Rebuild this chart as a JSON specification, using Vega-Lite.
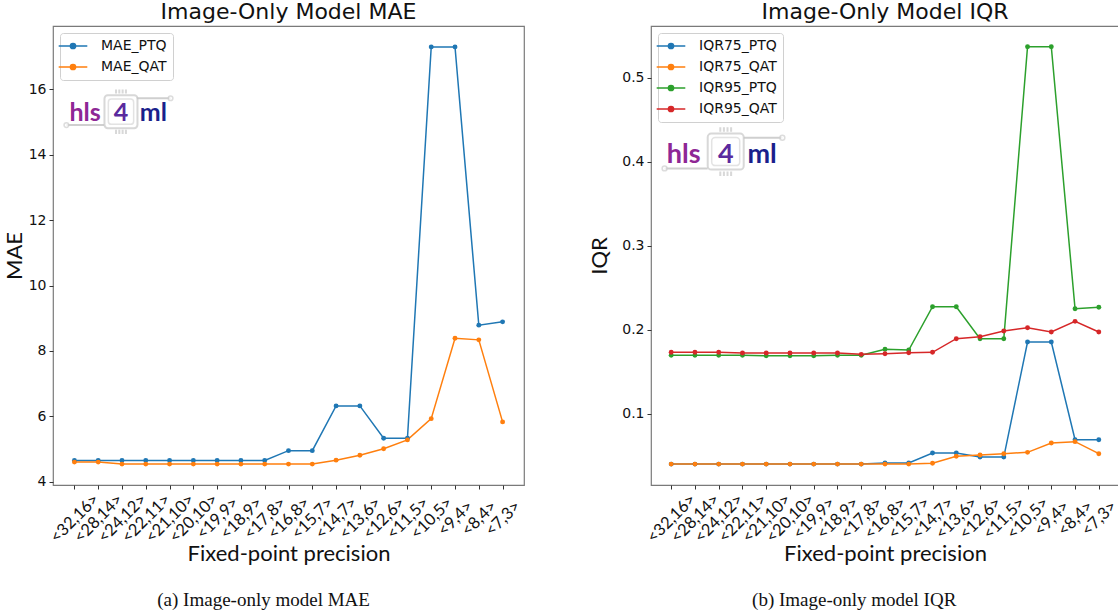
{
  "$schema": "https://vega.github.io/schema/vega-lite/v6.json",
  "background": "white",
  "padding": {"left": 2, "top": 0, "right": 0, "bottom": 0},
  "spacing": 63,
  "config": {
    "view": {"stroke": "#7a7a7a", "strokeWidth": 1.2},
    "axis": {"domain": false, "grid": false, "tickColor": "#333333", "tickSize": 4, "labelColor": "#111111", "titleColor": "#111111", "titleFontWeight": "normal"},
    "title": {"font": "DejaVu Sans", "fontSize": 22, "fontWeight": "normal", "color": "#111111"},
    "legend": {"orient": "top-left", "offset": 7, "padding": 6, "strokeColor": "#d0d0d0", "fillColor": "white", "cornerRadius": 3, "labelFont": "DejaVu Sans", "labelFontSize": 14, "labelColor": "#111111", "symbolType": "M-3,0H3M-0.55,0A0.55,0.55,0,1,0,0.55,0A0.55,0.55,0,1,0,-0.55,0Z", "symbolSize": 91, "symbolStrokeWidth": 1.5, "labelOffset": 21, "rowPadding": 7}
  },
  "resolve": {"scale": {"x": "independent", "y": "independent", "color": "independent"}, "legend": {"color": "independent"}},
  "datasets": {
    "mae": [
      {"p": "<32,16>", "s": "MAE_PTQ", "v": 4.65}, {"p": "<28,14>", "s": "MAE_PTQ", "v": 4.65}, {"p": "<24,12>", "s": "MAE_PTQ", "v": 4.65}, {"p": "<22,11>", "s": "MAE_PTQ", "v": 4.65}, {"p": "<21,10>", "s": "MAE_PTQ", "v": 4.65}, {"p": "<20,10>", "s": "MAE_PTQ", "v": 4.65}, {"p": "<19,9>", "s": "MAE_PTQ", "v": 4.65}, {"p": "<18,9>", "s": "MAE_PTQ", "v": 4.65}, {"p": "<17,8>", "s": "MAE_PTQ", "v": 4.65}, {"p": "<16,8>", "s": "MAE_PTQ", "v": 4.95}, {"p": "<15,7>", "s": "MAE_PTQ", "v": 4.95}, {"p": "<14,7>", "s": "MAE_PTQ", "v": 6.32}, {"p": "<13,6>", "s": "MAE_PTQ", "v": 6.32}, {"p": "<12,6>", "s": "MAE_PTQ", "v": 5.33}, {"p": "<11,5>", "s": "MAE_PTQ", "v": 5.33}, {"p": "<10,5>", "s": "MAE_PTQ", "v": 17.3}, {"p": "<9,4>", "s": "MAE_PTQ", "v": 17.3}, {"p": "<8,4>", "s": "MAE_PTQ", "v": 8.79}, {"p": "<7,3>", "s": "MAE_PTQ", "v": 8.89},
      {"p": "<32,16>", "s": "MAE_QAT", "v": 4.6}, {"p": "<28,14>", "s": "MAE_QAT", "v": 4.6}, {"p": "<24,12>", "s": "MAE_QAT", "v": 4.54}, {"p": "<22,11>", "s": "MAE_QAT", "v": 4.54}, {"p": "<21,10>", "s": "MAE_QAT", "v": 4.54}, {"p": "<20,10>", "s": "MAE_QAT", "v": 4.54}, {"p": "<19,9>", "s": "MAE_QAT", "v": 4.54}, {"p": "<18,9>", "s": "MAE_QAT", "v": 4.54}, {"p": "<17,8>", "s": "MAE_QAT", "v": 4.54}, {"p": "<16,8>", "s": "MAE_QAT", "v": 4.54}, {"p": "<15,7>", "s": "MAE_QAT", "v": 4.54}, {"p": "<14,7>", "s": "MAE_QAT", "v": 4.66}, {"p": "<13,6>", "s": "MAE_QAT", "v": 4.81}, {"p": "<12,6>", "s": "MAE_QAT", "v": 5.01}, {"p": "<11,5>", "s": "MAE_QAT", "v": 5.28}, {"p": "<10,5>", "s": "MAE_QAT", "v": 5.93}, {"p": "<9,4>", "s": "MAE_QAT", "v": 8.39}, {"p": "<8,4>", "s": "MAE_QAT", "v": 8.34}, {"p": "<7,3>", "s": "MAE_QAT", "v": 5.83}
    ],
    "iqr": [
      {"p": "<32,16>", "s": "IQR75_PTQ", "v": 0.04}, {"p": "<28,14>", "s": "IQR75_PTQ", "v": 0.04}, {"p": "<24,12>", "s": "IQR75_PTQ", "v": 0.04}, {"p": "<22,11>", "s": "IQR75_PTQ", "v": 0.04}, {"p": "<21,10>", "s": "IQR75_PTQ", "v": 0.04}, {"p": "<20,10>", "s": "IQR75_PTQ", "v": 0.04}, {"p": "<19,9>", "s": "IQR75_PTQ", "v": 0.04}, {"p": "<18,9>", "s": "IQR75_PTQ", "v": 0.04}, {"p": "<17,8>", "s": "IQR75_PTQ", "v": 0.04}, {"p": "<16,8>", "s": "IQR75_PTQ", "v": 0.0413}, {"p": "<15,7>", "s": "IQR75_PTQ", "v": 0.0413}, {"p": "<14,7>", "s": "IQR75_PTQ", "v": 0.0532}, {"p": "<13,6>", "s": "IQR75_PTQ", "v": 0.0532}, {"p": "<12,6>", "s": "IQR75_PTQ", "v": 0.0484}, {"p": "<11,5>", "s": "IQR75_PTQ", "v": 0.0484}, {"p": "<10,5>", "s": "IQR75_PTQ", "v": 0.1854}, {"p": "<9,4>", "s": "IQR75_PTQ", "v": 0.1854}, {"p": "<8,4>", "s": "IQR75_PTQ", "v": 0.069}, {"p": "<7,3>", "s": "IQR75_PTQ", "v": 0.069},
      {"p": "<32,16>", "s": "IQR75_QAT", "v": 0.04}, {"p": "<28,14>", "s": "IQR75_QAT", "v": 0.04}, {"p": "<24,12>", "s": "IQR75_QAT", "v": 0.04}, {"p": "<22,11>", "s": "IQR75_QAT", "v": 0.04}, {"p": "<21,10>", "s": "IQR75_QAT", "v": 0.04}, {"p": "<20,10>", "s": "IQR75_QAT", "v": 0.04}, {"p": "<19,9>", "s": "IQR75_QAT", "v": 0.04}, {"p": "<18,9>", "s": "IQR75_QAT", "v": 0.04}, {"p": "<17,8>", "s": "IQR75_QAT", "v": 0.04}, {"p": "<16,8>", "s": "IQR75_QAT", "v": 0.04}, {"p": "<15,7>", "s": "IQR75_QAT", "v": 0.04}, {"p": "<14,7>", "s": "IQR75_QAT", "v": 0.041}, {"p": "<13,6>", "s": "IQR75_QAT", "v": 0.0493}, {"p": "<12,6>", "s": "IQR75_QAT", "v": 0.0508}, {"p": "<11,5>", "s": "IQR75_QAT", "v": 0.0524}, {"p": "<10,5>", "s": "IQR75_QAT", "v": 0.054}, {"p": "<9,4>", "s": "IQR75_QAT", "v": 0.0651}, {"p": "<8,4>", "s": "IQR75_QAT", "v": 0.0667}, {"p": "<7,3>", "s": "IQR75_QAT", "v": 0.0524},
      {"p": "<32,16>", "s": "IQR95_PTQ", "v": 0.1695}, {"p": "<28,14>", "s": "IQR95_PTQ", "v": 0.1695}, {"p": "<24,12>", "s": "IQR95_PTQ", "v": 0.1695}, {"p": "<22,11>", "s": "IQR95_PTQ", "v": 0.1695}, {"p": "<21,10>", "s": "IQR95_PTQ", "v": 0.169}, {"p": "<20,10>", "s": "IQR95_PTQ", "v": 0.169}, {"p": "<19,9>", "s": "IQR95_PTQ", "v": 0.169}, {"p": "<18,9>", "s": "IQR95_PTQ", "v": 0.1695}, {"p": "<17,8>", "s": "IQR95_PTQ", "v": 0.1695}, {"p": "<16,8>", "s": "IQR95_PTQ", "v": 0.1767}, {"p": "<15,7>", "s": "IQR95_PTQ", "v": 0.1758}, {"p": "<14,7>", "s": "IQR95_PTQ", "v": 0.2274}, {"p": "<13,6>", "s": "IQR95_PTQ", "v": 0.2274}, {"p": "<12,6>", "s": "IQR95_PTQ", "v": 0.1893}, {"p": "<11,5>", "s": "IQR95_PTQ", "v": 0.1893}, {"p": "<10,5>", "s": "IQR95_PTQ", "v": 0.537}, {"p": "<9,4>", "s": "IQR95_PTQ", "v": 0.537}, {"p": "<8,4>", "s": "IQR95_PTQ", "v": 0.225}, {"p": "<7,3>", "s": "IQR95_PTQ", "v": 0.2267},
      {"p": "<32,16>", "s": "IQR95_QAT", "v": 0.1731}, {"p": "<28,14>", "s": "IQR95_QAT", "v": 0.1731}, {"p": "<24,12>", "s": "IQR95_QAT", "v": 0.1731}, {"p": "<22,11>", "s": "IQR95_QAT", "v": 0.1723}, {"p": "<21,10>", "s": "IQR95_QAT", "v": 0.1723}, {"p": "<20,10>", "s": "IQR95_QAT", "v": 0.1723}, {"p": "<19,9>", "s": "IQR95_QAT", "v": 0.1723}, {"p": "<18,9>", "s": "IQR95_QAT", "v": 0.1723}, {"p": "<17,8>", "s": "IQR95_QAT", "v": 0.1707}, {"p": "<16,8>", "s": "IQR95_QAT", "v": 0.1714}, {"p": "<15,7>", "s": "IQR95_QAT", "v": 0.1726}, {"p": "<14,7>", "s": "IQR95_QAT", "v": 0.1731}, {"p": "<13,6>", "s": "IQR95_QAT", "v": 0.1893}, {"p": "<12,6>", "s": "IQR95_QAT", "v": 0.1917}, {"p": "<11,5>", "s": "IQR95_QAT", "v": 0.1985}, {"p": "<10,5>", "s": "IQR95_QAT", "v": 0.2024}, {"p": "<9,4>", "s": "IQR95_QAT", "v": 0.1973}, {"p": "<8,4>", "s": "IQR95_QAT", "v": 0.21}, {"p": "<7,3>", "s": "IQR95_QAT", "v": 0.1973}
    ]
  },
  "hconcat": [
    {
      "title": {"text": "(a) Image-only model MAE", "orient": "bottom", "font": "Liberation Serif", "fontSize": 19, "offset": 26, "anchor": "middle"},
      "vconcat": [
        {
          "width": 471,
          "height": 459,
          "title": {"text": "Image-Only Model MAE", "frame": "group", "anchor": "middle", "offset": 2},
          "layer": [
            {
              "data": {"name": "mae"},
              "mark": {"type": "line", "strokeWidth": 1.5, "point": {"filled": true, "size": 24}},
              "encoding": {
                "x": {"field": "p", "type": "ordinal", "sort": ["<32,16>", "<28,14>", "<24,12>", "<22,11>", "<21,10>", "<20,10>", "<19,9>", "<18,9>", "<17,8>", "<16,8>", "<15,7>", "<14,7>", "<13,6>", "<12,6>", "<11,5>", "<10,5>", "<9,4>", "<8,4>", "<7,3>"], "scale": {"type": "point", "padding": 0.9},
                  "axis": {"title": "Fixed-point precision", "titleFont": "Lato", "titleFontSize": 22, "titlePadding": -2, "labelFont": "Lato", "labelFontSize": 16.5, "labelAngle": -45, "labelAlign": "center", "labelBaseline": "middle", "labelPadding": 29, "labelOverlap": false}},
                "y": {"field": "v", "type": "quantitative", "scale": {"domain": [3.9, 17.94], "nice": false, "zero": false},
                  "axis": {"values": [4, 6, 8, 10, 12, 14, 16], "title": "MAE", "titleFont": "Lato", "titleFontSize": 22, "titlePadding": 2, "labelFont": "DejaVu Sans", "labelFontSize": 14, "labelPadding": 3}},
                "color": {"field": "s", "type": "nominal", "scale": {"domain": ["MAE_PTQ", "MAE_QAT"], "range": ["#1f77b4", "#ff7f0e"]},
                  "legend": {"title": null, "encode": {"symbols": {"update": {"fill": {"signal": "datum.value === 'MAE_PTQ' ? '#1f77b4' : '#ff7f0e'"}}}}}}
              }
            },
            {
              "data": {"values": [{}]},
              "mark": {"type": "rule", "stroke": "#cfcfcf", "strokeWidth": 2, "xOffset": -8, "x2Offset": 6},
              "encoding": {"x": {"datum": "<32,16>", "type": "ordinal"}, "x2": {"datum": "<28,14>"}, "y": {"datum": 14.91}}
            },
            {
              "data": {"values": [{}]},
              "mark": {"type": "rule", "stroke": "#cfcfcf", "strokeWidth": 2, "xOffset": -9, "x2Offset": 1},
              "encoding": {"x": {"datum": "<22,11>", "type": "ordinal"}, "x2": {"datum": "<21,10>"}, "y": {"datum": 15.73}}
            },
            {
              "data": {"values": [{}]},
              "mark": {"type": "point", "shape": "circle", "filled": true, "fill": "white", "stroke": "#cfcfcf", "strokeWidth": 1.5, "size": 22, "xOffset": -8},
              "encoding": {"x": {"datum": "<32,16>", "type": "ordinal"}, "y": {"datum": 14.91}}
            },
            {
              "data": {"values": [{}]},
              "mark": {"type": "point", "shape": "circle", "filled": true, "fill": "white", "stroke": "#cfcfcf", "strokeWidth": 1.5, "size": 22, "xOffset": 1},
              "encoding": {"x": {"datum": "<21,10>", "type": "ordinal"}, "y": {"datum": 15.73}}
            },
            {
              "data": {"values": [{}]},
              "mark": {"type": "point", "filled": true, "fill": "white", "stroke": "#c8c8c8", "strokeWidth": 2, "size": 1089, "xOffset": -1, "shape": "M-0.8,-1H0.8A0.2,0.2,0,0,1,1,-0.8V0.8A0.2,0.2,0,0,1,0.8,1H-0.8A0.2,0.2,0,0,1,-1,0.8V-0.8A0.2,0.2,0,0,1,-0.8,-1ZM-0.3,-1.1V-1.35M-0.1,-1.1V-1.35M0.1,-1.1V-1.35M0.3,-1.1V-1.35M-0.3,1.1V1.35M-0.1,1.1V1.35M0.1,1.1V1.35M0.3,1.1V1.35"},
              "encoding": {"x": {"datum": "<24,12>", "type": "ordinal"}, "y": {"datum": 15.32}}
            },
            {
              "data": {"values": [{}]},
              "mark": {"type": "point", "filled": false, "stroke": "#d8d8d8", "strokeWidth": 1.5, "size": 640, "xOffset": -1, "shape": "M-0.75,-1H0.75A0.25,0.25,0,0,1,1,-0.75V0.75A0.25,0.25,0,0,1,0.75,1H-0.75A0.25,0.25,0,0,1,-1,0.75V-0.75A0.25,0.25,0,0,1,-0.75,-1Z"},
              "encoding": {"x": {"datum": "<24,12>", "type": "ordinal"}, "y": {"datum": 15.32}}
            },
            {
              "data": {"values": [{}]},
              "mark": {"type": "text", "text": "hls", "align": "left", "baseline": "alphabetic", "font": "Lato", "fontWeight": "bold", "fontSize": 25, "color": "#8e2795", "dx": -5},
              "encoding": {"x": {"datum": "<32,16>", "type": "ordinal"}, "y": {"datum": 15.03}}
            },
            {
              "data": {"values": [{}]},
              "mark": {"type": "text", "text": "4", "align": "center", "baseline": "alphabetic", "font": "Lato", "fontWeight": "bold", "fontSize": 25, "color": "#5a2a9e", "dx": -1},
              "encoding": {"x": {"datum": "<24,12>", "type": "ordinal"}, "y": {"datum": 15.03}}
            },
            {
              "data": {"values": [{}]},
              "mark": {"type": "text", "text": "ml", "align": "left", "baseline": "alphabetic", "font": "Lato", "fontWeight": "bold", "fontSize": 25, "color": "#1a1f8c", "dx": -6},
              "encoding": {"x": {"datum": "<22,11>", "type": "ordinal"}, "y": {"datum": 15.03}}
            }
          ]
        }
      ]
    },
    {
      "title": {"text": "(b) Image-only model IQR", "orient": "bottom", "font": "Liberation Serif", "fontSize": 19, "offset": 26, "anchor": "middle"},
      "vconcat": [
        {
          "width": 468,
          "height": 459,
          "title": {"text": "Image-Only Model IQR", "frame": "group", "anchor": "middle", "offset": 2},
          "layer": [
            {
              "data": {"name": "iqr"},
              "mark": {"type": "line", "strokeWidth": 1.5, "point": {"filled": true, "size": 24}},
              "encoding": {
                "x": {"field": "p", "type": "ordinal", "sort": ["<32,16>", "<28,14>", "<24,12>", "<22,11>", "<21,10>", "<20,10>", "<19,9>", "<18,9>", "<17,8>", "<16,8>", "<15,7>", "<14,7>", "<13,6>", "<12,6>", "<11,5>", "<10,5>", "<9,4>", "<8,4>", "<7,3>"], "scale": {"type": "point", "padding": 0.85},
                  "axis": {"title": "Fixed-point precision", "titleFont": "Lato", "titleFontSize": 22, "titlePadding": -2, "labelFont": "Lato", "labelFontSize": 16.5, "labelAngle": -45, "labelAlign": "center", "labelBaseline": "middle", "labelPadding": 29, "labelOverlap": false}},
                "y": {"field": "v", "type": "quantitative", "scale": {"domain": [0.0151, 0.5617], "nice": false, "zero": false},
                  "axis": {"values": [0.1, 0.2, 0.3, 0.4, 0.5], "format": ".1f", "title": "IQR", "titleFont": "Lato", "titleFontSize": 22, "titlePadding": 10, "labelFont": "DejaVu Sans", "labelFontSize": 14, "labelPadding": 3}},
                "color": {"field": "s", "type": "nominal", "scale": {"domain": ["IQR75_PTQ", "IQR75_QAT", "IQR95_PTQ", "IQR95_QAT"], "range": ["#1f77b4", "#ff7f0e", "#2ca02c", "#d62728"]},
                  "legend": {"title": null, "encode": {"symbols": {"update": {"fill": {"signal": "datum.value === 'IQR75_PTQ' ? '#1f77b4' : datum.value === 'IQR75_QAT' ? '#ff7f0e' : datum.value === 'IQR95_PTQ' ? '#2ca02c' : '#d62728'"}}}}}}
              }
            },
            {
              "data": {"values": [{}]},
              "mark": {"type": "rule", "stroke": "#cfcfcf", "strokeWidth": 2, "xOffset": -6.6, "x2Offset": 12.7},
              "encoding": {"x": {"datum": "<32,16>", "type": "ordinal"}, "x2": {"datum": "<28,14>"}, "y": {"datum": 0.3921}}
            },
            {
              "data": {"values": [{}]},
              "mark": {"type": "rule", "stroke": "#cfcfcf", "strokeWidth": 2, "xOffset": 1.2, "x2Offset": -7.6},
              "encoding": {"x": {"datum": "<22,11>", "type": "ordinal"}, "x2": {"datum": "<20,10>"}, "y": {"datum": 0.4286}}
            },
            {
              "data": {"values": [{}]},
              "mark": {"type": "point", "shape": "circle", "filled": true, "fill": "white", "stroke": "#cfcfcf", "strokeWidth": 1.5, "size": 24, "xOffset": -6.6},
              "encoding": {"x": {"datum": "<32,16>", "type": "ordinal"}, "y": {"datum": 0.3921}}
            },
            {
              "data": {"values": [{}]},
              "mark": {"type": "point", "shape": "circle", "filled": true, "fill": "white", "stroke": "#cfcfcf", "strokeWidth": 1.5, "size": 24, "xOffset": -7.6},
              "encoding": {"x": {"datum": "<20,10>", "type": "ordinal"}, "y": {"datum": 0.4286}}
            },
            {
              "data": {"values": [{}]},
              "mark": {"type": "point", "filled": true, "fill": "white", "stroke": "#c8c8c8", "strokeWidth": 2, "size": 1296, "xOffset": 7, "shape": "M-0.8,-1H0.8A0.2,0.2,0,0,1,1,-0.8V0.8A0.2,0.2,0,0,1,0.8,1H-0.8A0.2,0.2,0,0,1,-1,0.8V-0.8A0.2,0.2,0,0,1,-0.8,-1ZM-0.3,-1.1V-1.35M-0.1,-1.1V-1.35M0.1,-1.1V-1.35M0.3,-1.1V-1.35M-0.3,1.1V1.35M-0.1,1.1V1.35M0.1,1.1V1.35M0.3,1.1V1.35"},
              "encoding": {"x": {"datum": "<24,12>", "type": "ordinal"}, "y": {"datum": 0.4121}}
            },
            {
              "data": {"values": [{}]},
              "mark": {"type": "point", "filled": false, "stroke": "#d8d8d8", "strokeWidth": 1.5, "size": 784, "xOffset": 7, "shape": "M-0.75,-1H0.75A0.25,0.25,0,0,1,1,-0.75V0.75A0.25,0.25,0,0,1,0.75,1H-0.75A0.25,0.25,0,0,1,-1,0.75V-0.75A0.25,0.25,0,0,1,-0.75,-1Z"},
              "encoding": {"x": {"datum": "<24,12>", "type": "ordinal"}, "y": {"datum": 0.4121}}
            },
            {
              "data": {"values": [{}]},
              "mark": {"type": "text", "text": "hls", "align": "left", "baseline": "alphabetic", "font": "Lato", "fontWeight": "bold", "fontSize": 27, "color": "#8e2795", "dx": -4.5},
              "encoding": {"x": {"datum": "<32,16>", "type": "ordinal"}, "y": {"datum": 0.3985}}
            },
            {
              "data": {"values": [{}]},
              "mark": {"type": "text", "text": "4", "align": "center", "baseline": "alphabetic", "font": "Lato", "fontWeight": "bold", "fontSize": 27, "color": "#5a2a9e", "dx": 7},
              "encoding": {"x": {"datum": "<24,12>", "type": "ordinal"}, "y": {"datum": 0.3985}}
            },
            {
              "data": {"values": [{}]},
              "mark": {"type": "text", "text": "ml", "align": "left", "baseline": "alphabetic", "font": "Lato", "fontWeight": "bold", "fontSize": 27, "color": "#1a1f8c", "dx": 5},
              "encoding": {"x": {"datum": "<22,11>", "type": "ordinal"}, "y": {"datum": 0.3985}}
            }
          ]
        }
      ]
    }
  ]
}
